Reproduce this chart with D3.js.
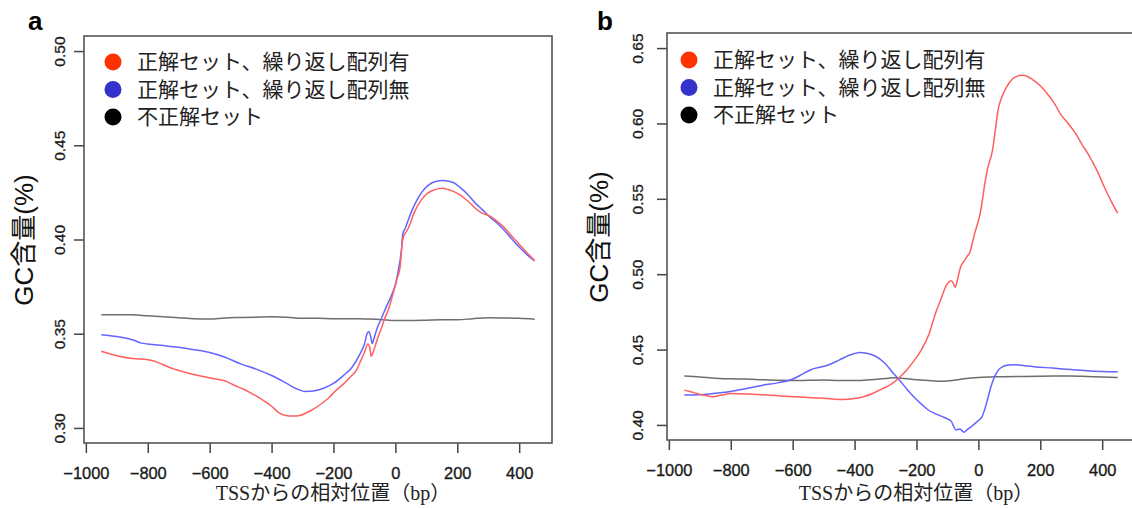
<!DOCTYPE html>
<html>
<head>
<meta charset="utf-8">
<script src="https://cdn.jsdelivr.net/npm/d3@7"></script>
<style>
  html, body { margin: 0; padding: 0; background: #fff; }
  svg { display: block; }
</style>
</head>
<body>
<svg id="chart" width="1132" height="508"></svg>
<script>
// ---- data -------------------------------------------------------------
const seriesNames = ["正解セット、繰り返し配列有", "正解セット、繰り返し配列無", "不正解セット"];
const xTicks = [-1000, -800, -600, -400, -200, 0, 200, 400];
const yTicksA = [0.30, 0.35, 0.40, 0.45, 0.50];
const yTicksB = [0.40, 0.45, 0.50, 0.55, 0.60, 0.65];

// panel a: GC content around the TSS, [position (bp), GC fraction]
const repeatWithA = [
  [-950,0.3407],[-900,0.3383],[-850,0.3368],[-800,0.3362],[-780,0.3355],[-750,0.3335],
  [-714,0.3312],[-680,0.3296],[-633,0.3277],[-590,0.3262],[-552,0.3250],[-517,0.3224],
  [-490,0.3205],[-471,0.3189],[-450,0.3170],[-425,0.3144],[-400,0.3115],[-378,0.3083],
  [-355,0.3066],[-330,0.3063],[-309,0.3066],[-290,0.3078],[-274,0.3091],[-240,0.3127],
  [-215,0.3160],[-193,0.3197],[-170,0.3230],[-147,0.3268],[-125,0.3310],[-112,0.3356],
  [-100,0.3400],[-89,0.3445],[-82,0.3420],[-78,0.3380],[-72,0.3400],[-60,0.3463],
  [-45,0.3530],[-37,0.3569],[-20,0.3640],[-8,0.3710],[5,0.3790],[15,0.3852],
  [22,0.3980],[26,0.4015],[35,0.4040],[44,0.4068],[60,0.4140],[84,0.4210],
  [100,0.4240],[119,0.4259],[140,0.4270],[154,0.4272],[170,0.4265],[189,0.4254],
  [210,0.4235],[223,0.4219],[240,0.4195],[258,0.4166],[280,0.4140],[304,0.4125],
  [330,0.4095],[351,0.4065],[375,0.4020],[400,0.3975],[425,0.3930],[450,0.3888]
];
const repeatWithoutA = [
  [-950,0.3495],[-900,0.3485],[-850,0.3468],[-820,0.3450],[-800,0.3445],[-750,0.3437],
  [-700,0.3428],[-650,0.3415],[-600,0.3400],[-550,0.3375],[-500,0.3340],[-450,0.3312],
  [-400,0.3278],[-350,0.3235],[-320,0.3208],[-290,0.3193],[-260,0.3197],[-230,0.3212],
  [-200,0.3236],[-170,0.3275],[-140,0.3322],[-115,0.3390],[-100,0.3445],[-90,0.3505],
  [-85,0.3510],[-78,0.3470],[-75,0.3448],[-70,0.3470],[-60,0.3524],[-45,0.3582],
  [-30,0.3640],[-15,0.3695],[0,0.3760],[12,0.3860],[20,0.3950],[24,0.4030],
  [32,0.4060],[50,0.4140],[70,0.4210],[85,0.4250],[108,0.4290],[130,0.4308],
  [154,0.4313],[175,0.4308],[190,0.4300],[210,0.4275],[230,0.4245],[258,0.4194],
  [280,0.4160],[304,0.4121],[330,0.4085],[351,0.4050],[375,0.4005],[400,0.3960],
  [425,0.3920],[450,0.3886]
];
const negativeA = [
  [-950,0.3601],[-850,0.3600],[-800,0.3595],[-700,0.3585],[-650,0.3580],[-600,0.3578],
  [-550,0.3584],[-500,0.3586],[-450,0.3588],[-400,0.3590],[-350,0.3587],[-300,0.3582],
  [-250,0.3582],[-200,0.3580],[-150,0.3580],[-100,0.3578],[-50,0.3576],[0,0.3570],
  [50,0.3570],[100,0.3572],[150,0.3574],[200,0.3574],[250,0.3580],[300,0.3585],
  [350,0.3584],[400,0.3582],[450,0.3577]
];

// panel b
const repeatWithB = [
  [-950,0.4231],[-930,0.4220],[-904,0.4205],[-880,0.4195],[-857,0.4187],[-830,0.4198],
  [-800,0.4209],[-742,0.4205],[-700,0.4200],[-626,0.4191],[-560,0.4183],[-510,0.4178],
  [-470,0.4172],[-440,0.4169],[-400,0.4175],[-371,0.4187],[-340,0.4210],[-324,0.4227],
  [-300,0.4250],[-278,0.4275],[-255,0.4315],[-232,0.4363],[-210,0.4420],[-185,0.4495],
  [-160,0.4600],[-139,0.4737],[-120,0.4840],[-104,0.4924],[-87,0.4957],[-80,0.4935],
  [-75,0.4913],[-68,0.4960],[-58,0.5045],[-45,0.5090],[-35,0.5122],[-29,0.5138],
  [-12,0.5271],[6,0.5405],[23,0.5627],[29,0.5693],[46,0.5826],[55,0.5960],
  [64,0.6093],[75,0.6170],[87,0.6226],[100,0.6270],[116,0.6304],[141,0.6319],
  [160,0.6310],[174,0.6293],[200,0.6250],[220,0.6204],[245,0.6135],[266,0.6060],
  [290,0.6000],[313,0.5937],[335,0.5860],[359,0.5782],[385,0.5680],[406,0.5582],
  [430,0.5480],[450,0.5405]
];
const repeatWithoutB = [
  [-950,0.4198],[-900,0.4200],[-857,0.4209],[-800,0.4222],[-776,0.4231],[-700,0.4262],
  [-649,0.4279],[-603,0.4301],[-570,0.4335],[-545,0.4363],[-487,0.4396],[-450,0.4430],
  [-417,0.4462],[-382,0.4480],[-348,0.4469],[-320,0.4440],[-301,0.4407],[-280,0.4355],
  [-255,0.4297],[-230,0.4235],[-209,0.4187],[-185,0.4140],[-162,0.4099],[-140,0.4075],
  [-116,0.4055],[-100,0.4040],[-87,0.4022],[-80,0.3990],[-72,0.3967],[-65,0.3972],
  [-58,0.3971],[-52,0.3960],[-46,0.3952],[-35,0.3970],[-23,0.3989],[-5,0.4020],
  [12,0.4055],[20,0.4100],[29,0.4165],[40,0.4250],[52,0.4319],[65,0.4365],
  [81,0.4389],[100,0.4398],[116,0.4400],[150,0.4392],[185,0.4385],[240,0.4377],
  [301,0.4367],[350,0.4360],[400,0.4355],[450,0.4352]
];
const negativeB = [
  [-950,0.4324],[-900,0.4318],[-850,0.4310],[-800,0.4306],[-750,0.4305],[-700,0.4300],
  [-650,0.4296],[-603,0.4295],[-550,0.4296],[-500,0.4298],[-450,0.4295],[-394,0.4295],
  [-350,0.4300],[-300,0.4308],[-278,0.4313],[-250,0.4310],[-200,0.4300],[-150,0.4293],
  [-116,0.4290],[-80,0.4296],[-46,0.4306],[0,0.4315],[70,0.4320],[150,0.4322],
  [243,0.4324],[300,0.4325],[350,0.4322],[400,0.4318],[450,0.4315]
];

// ---- styling ----------------------------------------------------------
const lineColors = ["#ff5f5f", "#6464ff", "#6e6e6e"];
const dotColors = ["#ff3300", "#3333cc", "#000000"];
const sansFont = "'Liberation Sans', Arial, sans-serif";
const cjkFont = "'Noto Sans CJK JP', sans-serif";
const titleFont = "'Liberation Serif', 'Noto Sans CJK JP', serif";

const svg = d3.select("#chart");

function drawPanel(cfg) {
  const g = svg.append("g");
  const x = d3.scaleLinear()
    .domain([-950 - 1400 * 0.04, 450 + 1400 * 0.04])
    .range([cfg.left, cfg.left + cfg.width]);
  const ySpan = cfg.yRange[1] - cfg.yRange[0];
  const y = d3.scaleLinear()
    .domain([cfg.yRange[0] - ySpan * 0.04, cfg.yRange[1] + ySpan * 0.04])
    .range([cfg.top + cfg.height, cfg.top]);

  // series lines: gray first, then blue, then red on top
  const line = d3.line().x(d => x(d[0])).y(d => y(d[1])).curve(d3.curveMonotoneX);
  [2, 1, 0].forEach(i => {
    g.append("path")
      .datum(cfg.series[i])
      .attr("d", line)
      .attr("fill", "none")
      .attr("stroke", lineColors[i])
      .attr("stroke-width", 1.5)
      .attr("stroke-linejoin", "round");
  });

  // x axis
  const xAxis = g.append("g")
    .attr("transform", `translate(0,${cfg.top + cfg.height})`)
    .call(d3.axisBottom(x).tickValues(xTicks).tickSize(10).tickPadding(4)
      .tickFormat(d => d < 0 ? "\u2212" + Math.abs(d) : String(d)));
  xAxis.select(".domain").remove();
  xAxis.selectAll(".tick line").attr("stroke", "#444").attr("stroke-width", 1.5);
  xAxis.selectAll(".tick text")
    .attr("font-family", sansFont).attr("font-size", 16.4).attr("fill", "#1a1a1a")
    .attr("stroke", "#1a1a1a").attr("stroke-width", 0.35)
    .attr("dy", null).attr("y", 36);

  // y axis with rotated labels
  const yAxis = g.append("g")
    .attr("transform", `translate(${cfg.left},0)`)
    .call(d3.axisLeft(y).tickValues(cfg.yTicks).tickSize(10).tickFormat(d3.format(".2f")));
  yAxis.select(".domain").remove();
  yAxis.selectAll(".tick line").attr("stroke", "#444").attr("stroke-width", 1.5);
  yAxis.selectAll(".tick text")
    .attr("x", null).attr("dy", null)
    .attr("transform", `translate(${-cfg.yLabelOffset},0) rotate(-90)`)
    .attr("text-anchor", "middle")
    .attr("font-family", sansFont).attr("font-size", 15.5).attr("fill", "#1a1a1a")
    .attr("stroke", "#1a1a1a").attr("stroke-width", 0.3);

  // plot frame
  g.append("rect")
    .attr("x", cfg.left).attr("y", cfg.top)
    .attr("width", cfg.width).attr("height", cfg.height)
    .attr("fill", "none").attr("stroke", "#555").attr("stroke-width", 1.6);

  // axis titles
  g.append("text")
    .attr("transform", `translate(${cfg.yTitleX},${cfg.top + 204}) rotate(-90)`)
    .attr("text-anchor", "middle")
    .attr("font-family", "'Liberation Sans', 'Noto Sans CJK JP', sans-serif")
    .attr("font-size", 26).attr("fill", "#111")
    .text("GC含量(%)");
  g.append("text")
    .attr("x", cfg.left + cfg.width / 2 + 15).attr("y", cfg.xTitleY)
    .attr("text-anchor", "middle")
    .attr("font-family", titleFont).attr("font-size", 20).attr("fill", "#222")
    .text("TSSからの相対位置（bp）");

  // panel letter
  g.append("text")
    .attr("x", cfg.letterX).attr("y", 30)
    .attr("font-family", sansFont).attr("font-weight", "bold")
    .attr("font-size", 26).attr("fill", "#000")
    .text(cfg.letter);

  // legend
  const lg = g.append("g");
  seriesNames.forEach((name, i) => {
    const cy = cfg.legendY + i * 27.5;
    lg.append("circle").attr("cx", cfg.legendX).attr("cy", cy).attr("r", 8.5).attr("fill", dotColors[i]);
    lg.append("text")
      .attr("x", cfg.legendX + 24).attr("y", cy).attr("dy", "0.35em")
      .attr("font-family", cjkFont).attr("font-size", 21).attr("fill", "#222")
      .text(name);
  });
}

drawPanel({
  letter: "a", letterX: 28,
  left: 84, top: 36, width: 468, height: 407,
  yRange: [0.30, 0.50], yTicks: yTicksA, yLabelOffset: 19,
  yTitleX: 33, xTitleY: 500,
  legendX: 113, legendY: 62,
  series: [repeatWithA, repeatWithoutA, negativeA]
});

drawPanel({
  letter: "b", letterX: 597,
  left: 667, top: 33, width: 468, height: 407,
  yRange: [0.40, 0.65], yTicks: yTicksB, yLabelOffset: 24,
  yTitleX: 608, xTitleY: 500,
  legendX: 689, legendY: 60,
  series: [repeatWithB, repeatWithoutB, negativeB]
});
</script>
</body>
</html>
